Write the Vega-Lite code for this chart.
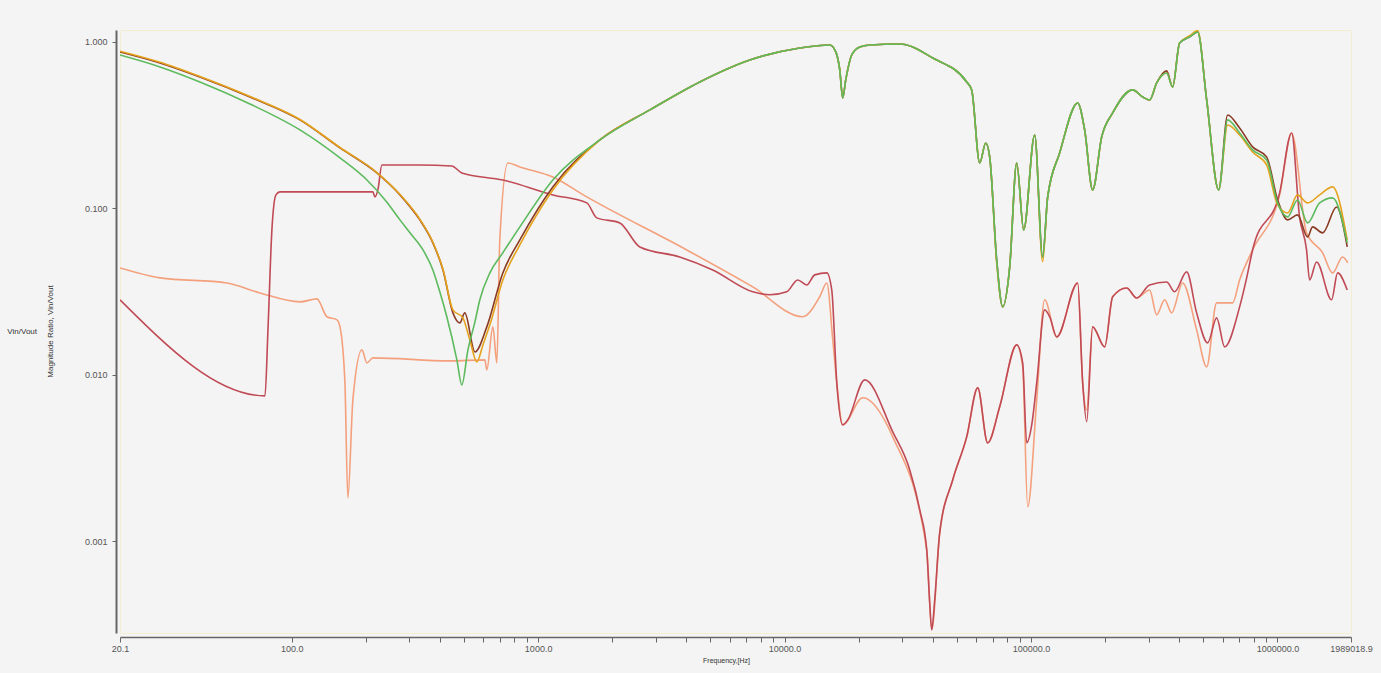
{
  "$schema": "https://vega.github.io/schema/vega-lite/v6.json",
  "autosize": "none",
  "width": 1231,
  "height": 603,
  "padding": {"left": 120, "top": 30, "right": 30, "bottom": 40},
  "background": "#f4f4f4",
  "title": {"text": "Vin/Vout", "orient": "left", "angle": 0, "align": "left", "baseline": "middle", "anchor": "middle", "offset": 9, "fontSize": 8, "fontWeight": "normal", "font": "Liberation Sans", "color": "#333"},
  "config": {
    "view": {"stroke": "#f3edd2", "strokeWidth": 1},
    "axis": {"labelFont": "Liberation Sans", "titleFont": "Liberation Sans", "labelColor": "#555", "titleColor": "#333", "domainColor": "#666", "tickColor": "#666", "grid": false}
  },
  "data": {
    "values": [
      {"s": "E", "f": 20.1, "v": 0.0438}, {"s": "E", "f": 29.2, "v": 0.0382}, {"s": "E", "f": 54.6, "v": 0.0356}, {"s": "E", "f": 74.3, "v": 0.031}, {"s": "E", "f": 108, "v": 0.0274}, {"s": "E", "f": 126.6, "v": 0.02855}, {"s": "E", "f": 138.9, "v": 0.0223}, {"s": "E", "f": 152.6, "v": 0.02135}, {"s": "E", "f": 157, "v": 0.01938}, {"s": "E", "f": 164.4, "v": 0.00893}, {"s": "E", "f": 169, "v": 0.001818}, {"s": "E", "f": 177.1, "v": 0.00706}, {"s": "E", "f": 192.7, "v": 0.01409}, {"s": "E", "f": 202, "v": 0.01177}, {"s": "E", "f": 213.5, "v": 0.01262}, {"s": "E", "f": 438.3, "v": 0.0121}, {"s": "E", "f": 607.8, "v": 0.01227}, {"s": "E", "f": 619, "v": 0.01069}, {"s": "E", "f": 655, "v": 0.01938}, {"s": "E", "f": 680, "v": 0.01177}, {"s": "E", "f": 699, "v": 0.0646}, {"s": "E", "f": 753.8, "v": 0.1874}, {"s": "E", "f": 843, "v": 0.1773}, {"s": "E", "f": 1147, "v": 0.1544}, {"s": "E", "f": 1576, "v": 0.1171}, {"s": "E", "f": 4010, "v": 0.0562}, {"s": "E", "f": 7430, "v": 0.0337}, {"s": "E", "f": 11850, "v": 0.0223}, {"s": "E", "f": 13890, "v": 0.0294}, {"s": "E", "f": 14840, "v": 0.0356}, {"s": "E", "f": 15690, "v": 0.01619}, {"s": "E", "f": 16290, "v": 0.00893}, {"s": "E", "f": 17220, "v": 0.00499}, {"s": "E", "f": 20760, "v": 0.00726}, {"s": "E", "f": 27480, "v": 0.00423}, {"s": "E", "f": 37750, "v": 0.000885}, {"s": "E", "f": 39560, "v": 0.000293}, {"s": "E", "f": 42620, "v": 0.00112}, {"s": "E", "f": 48120, "v": 0.00233}, {"s": "E", "f": 54840, "v": 0.00423}, {"s": "E", "f": 60790, "v": 0.00833}, {"s": "E", "f": 66720, "v": 0.00389}, {"s": "E", "f": 74650, "v": 0.00641}, {"s": "E", "f": 87500, "v": 0.0151}, {"s": "E", "f": 92540, "v": 0.01114}, {"s": "E", "f": 96970, "v": 0.001606}, {"s": "E", "f": 105500, "v": 0.00706}, {"s": "E", "f": 113600, "v": 0.0282}, {"s": "E", "f": 127200, "v": 0.01688}, {"s": "E", "f": 154700, "v": 0.0356}, {"s": "E", "f": 162100, "v": 0.00893}, {"s": "E", "f": 168300, "v": 0.00614}, {"s": "E", "f": 177900, "v": 0.01938}, {"s": "E", "f": 199100, "v": 0.01469}, {"s": "E", "f": 214500, "v": 0.0294}, {"s": "E", "f": 244500, "v": 0.0332}, {"s": "E", "f": 268400, "v": 0.0289}, {"s": "E", "f": 303000, "v": 0.0323}, {"s": "E", "f": 323600, "v": 0.02288}, {"s": "E", "f": 348700, "v": 0.0282}, {"s": "E", "f": 372200, "v": 0.02352}, {"s": "E", "f": 412500, "v": 0.0356}, {"s": "E", "f": 470100, "v": 0.01859}, {"s": "E", "f": 516300, "v": 0.01114}, {"s": "E", "f": 566700, "v": 0.027}, {"s": "E", "f": 658000, "v": 0.027}, {"s": "E", "f": 702500, "v": 0.0371}, {"s": "E", "f": 793000, "v": 0.0562}, {"s": "E", "f": 1021000, "v": 0.1204}, {"s": "E", "f": 1142000, "v": 0.2839}, {"s": "E", "f": 1313000, "v": 0.0712}, {"s": "E", "f": 1526000, "v": 0.054}, {"s": "E", "f": 1674000, "v": 0.0409}, {"s": "E", "f": 1839000, "v": 0.051}, {"s": "E", "f": 1930000, "v": 0.047},

      {"s": "D", "f": 20.1, "v": 0.0282}, {"s": "D", "f": 77.9, "v": 0.00746}, {"s": "D", "f": 80.1, "v": 0.01859}, {"s": "D", "f": 83.1, "v": 0.0742}, {"s": "D", "f": 86.3, "v": 0.1204}, {"s": "D", "f": 89.6, "v": 0.1255}, {"s": "D", "f": 213.5, "v": 0.1255}, {"s": "D", "f": 217.5, "v": 0.1171}, {"s": "D", "f": 223.7, "v": 0.129}, {"s": "D", "f": 232.2, "v": 0.1823}, {"s": "D", "f": 331, "v": 0.1823}, {"s": "D", "f": 446.5, "v": 0.1798}, {"s": "D", "f": 490, "v": 0.1632}, {"s": "D", "f": 719, "v": 0.148}, {"s": "D", "f": 1147, "v": 0.1204}, {"s": "D", "f": 1576, "v": 0.1078}, {"s": "D", "f": 1730, "v": 0.0876}, {"s": "D", "f": 2145, "v": 0.0817}, {"s": "D", "f": 2586, "v": 0.0586}, {"s": "D", "f": 3757, "v": 0.051}, {"s": "D", "f": 5113, "v": 0.0426}, {"s": "D", "f": 7430, "v": 0.0315}, {"s": "D", "f": 8710, "v": 0.0302}, {"s": "D", "f": 10210, "v": 0.0315}, {"s": "D", "f": 11310, "v": 0.0371}, {"s": "D", "f": 12300, "v": 0.0346}, {"s": "D", "f": 13260, "v": 0.0398}, {"s": "D", "f": 14840, "v": 0.0409}, {"s": "D", "f": 15540, "v": 0.0323}, {"s": "D", "f": 16290, "v": 0.00893}, {"s": "D", "f": 17220, "v": 0.00499}, {"s": "D", "f": 18050, "v": 0.00535}, {"s": "D", "f": 21150, "v": 0.0093}, {"s": "D", "f": 27480, "v": 0.00453}, {"s": "D", "f": 32200, "v": 0.00268}, {"s": "D", "f": 35370, "v": 0.00154}, {"s": "D", "f": 37750, "v": 0.000885}, {"s": "D", "f": 38820, "v": 0.000425}, {"s": "D", "f": 39560, "v": 0.000293}, {"s": "D", "f": 40680, "v": 0.000443}, {"s": "D", "f": 42620, "v": 0.00112}, {"s": "D", "f": 48120, "v": 0.00233}, {"s": "D", "f": 54840, "v": 0.00423}, {"s": "D", "f": 60790, "v": 0.00833}, {"s": "D", "f": 66720, "v": 0.00389}, {"s": "D", "f": 74650, "v": 0.00641}, {"s": "D", "f": 87500, "v": 0.0151}, {"s": "D", "f": 92540, "v": 0.01177}, {"s": "D", "f": 96070, "v": 0.00389}, {"s": "D", "f": 100700, "v": 0.00499}, {"s": "D", "f": 105500, "v": 0.00893}, {"s": "D", "f": 113600, "v": 0.02452}, {"s": "D", "f": 119100, "v": 0.0223}, {"s": "D", "f": 127200, "v": 0.01688}, {"s": "D", "f": 154700, "v": 0.0356}, {"s": "D", "f": 162100, "v": 0.00893}, {"s": "D", "f": 168300, "v": 0.00521}, {"s": "D", "f": 177900, "v": 0.01938}, {"s": "D", "f": 199100, "v": 0.01469}, {"s": "D", "f": 214500, "v": 0.0294}, {"s": "D", "f": 244500, "v": 0.0332}, {"s": "D", "f": 268400, "v": 0.0289}, {"s": "D", "f": 303000, "v": 0.0346}, {"s": "D", "f": 355300, "v": 0.0361}, {"s": "D", "f": 382800, "v": 0.0315}, {"s": "D", "f": 428300, "v": 0.0415}, {"s": "D", "f": 470100, "v": 0.02352}, {"s": "D", "f": 521100, "v": 0.01553}, {"s": "D", "f": 566700, "v": 0.02195}, {"s": "D", "f": 610800, "v": 0.01469}, {"s": "D", "f": 702500, "v": 0.02556}, {"s": "D", "f": 750300, "v": 0.0382}, {"s": "D", "f": 793000, "v": 0.0562}, {"s": "D", "f": 1021000, "v": 0.1238}, {"s": "D", "f": 1142000, "v": 0.2839}, {"s": "D", "f": 1230000, "v": 0.0888}, {"s": "D", "f": 1313000, "v": 0.0562}, {"s": "D", "f": 1351000, "v": 0.0371}, {"s": "D", "f": 1442000, "v": 0.0476}, {"s": "D", "f": 1659000, "v": 0.0282}, {"s": "D", "f": 1755000, "v": 0.0409}, {"s": "D", "f": 1920000, "v": 0.0323},

      {"s": "A", "f": 20.1, "v": 0.871}, {"s": "A", "f": 29.2, "v": 0.748}, {"s": "A", "f": 42.4, "v": 0.616}, {"s": "A", "f": 67.7, "v": 0.467}, {"s": "A", "f": 108, "v": 0.34}, {"s": "A", "f": 157, "v": 0.2307}, {"s": "A", "f": 221.6, "v": 0.1632}, {"s": "A", "f": 275, "v": 0.1204}, {"s": "A", "f": 331, "v": 0.0852}, {"s": "A", "f": 374, "v": 0.062}, {"s": "A", "f": 411, "v": 0.0426}, {"s": "A", "f": 451, "v": 0.02352}, {"s": "A", "f": 481, "v": 0.02048}, {"s": "A", "f": 504, "v": 0.02352}, {"s": "A", "f": 554, "v": 0.01371}, {"s": "A", "f": 619, "v": 0.01938}, {"s": "A", "f": 719, "v": 0.0409}, {"s": "A", "f": 843, "v": 0.0646}, {"s": "A", "f": 1147, "v": 0.1345}, {"s": "A", "f": 1780, "v": 0.2577}, {"s": "A", "f": 2840, "v": 0.3904}, {"s": "A", "f": 4529, "v": 0.575}, {"s": "A", "f": 7224, "v": 0.779}, {"s": "A", "f": 11530, "v": 0.92}, {"s": "A", "f": 15260, "v": 0.959}, {"s": "A", "f": 16140, "v": 0.871}, {"s": "A", "f": 16750, "v": 0.679}, {"s": "A", "f": 17220, "v": 0.461}, {"s": "A", "f": 17710, "v": 0.591}, {"s": "A", "f": 18730, "v": 0.835}, {"s": "A", "f": 20190, "v": 0.933}, {"s": "A", "f": 22160, "v": 0.959}, {"s": "A", "f": 29330, "v": 0.973}, {"s": "A", "f": 39930, "v": 0.801}, {"s": "A", "f": 54840, "v": 0.575}, {"s": "A", "f": 57460, "v": 0.515}, {"s": "A", "f": 61940, "v": 0.1874}, {"s": "A", "f": 65510, "v": 0.2472}, {"s": "A", "f": 67990, "v": 0.2037}, {"s": "A", "f": 72580, "v": 0.049}, {"s": "A", "f": 76790, "v": 0.02556}, {"s": "A", "f": 81960, "v": 0.0444}, {"s": "A", "f": 87500, "v": 0.1874}, {"s": "A", "f": 93410, "v": 0.0742}, {"s": "A", "f": 103500, "v": 0.2761}, {"s": "A", "f": 111500, "v": 0.051}, {"s": "A", "f": 116900, "v": 0.1171}, {"s": "A", "f": 130700, "v": 0.2152}, {"s": "A", "f": 154700, "v": 0.43}, {"s": "A", "f": 165100, "v": 0.296}, {"s": "A", "f": 177900, "v": 0.129}, {"s": "A", "f": 193600, "v": 0.2686}, {"s": "A", "f": 214500, "v": 0.3744}, {"s": "A", "f": 258600, "v": 0.515}, {"s": "A", "f": 283900, "v": 0.467}, {"s": "A", "f": 303000, "v": 0.448}, {"s": "A", "f": 323600, "v": 0.567}, {"s": "A", "f": 355300, "v": 0.67}, {"s": "A", "f": 375700, "v": 0.537}, {"s": "A", "f": 401000, "v": 0.986}, {"s": "A", "f": 440400, "v": 1.072}, {"s": "A", "f": 474700, "v": 1.148}, {"s": "A", "f": 516300, "v": 0.448}, {"s": "A", "f": 577500, "v": 0.129}, {"s": "A", "f": 628100, "v": 0.364}, {"s": "A", "f": 702500, "v": 0.304}, {"s": "A", "f": 793000, "v": 0.234}, {"s": "A", "f": 904100, "v": 0.2037}, {"s": "A", "f": 1002000, "v": 0.1123}, {"s": "A", "f": 1100000, "v": 0.0852}, {"s": "A", "f": 1207000, "v": 0.0913}, {"s": "A", "f": 1326000, "v": 0.0673}, {"s": "A", "f": 1389000, "v": 0.0773}, {"s": "A", "f": 1526000, "v": 0.0712}, {"s": "A", "f": 1739000, "v": 0.1019}, {"s": "A", "f": 1920000, "v": 0.0586},

      {"s": "B", "f": 20.1, "v": 0.88}, {"s": "B", "f": 29.2, "v": 0.755}, {"s": "B", "f": 42.4, "v": 0.62}, {"s": "B", "f": 67.7, "v": 0.47}, {"s": "B", "f": 108, "v": 0.342}, {"s": "B", "f": 157, "v": 0.232}, {"s": "B", "f": 221.6, "v": 0.164}, {"s": "B", "f": 275, "v": 0.121}, {"s": "B", "f": 331, "v": 0.086}, {"s": "B", "f": 374, "v": 0.0625}, {"s": "B", "f": 411, "v": 0.043}, {"s": "B", "f": 451, "v": 0.02452}, {"s": "B", "f": 495, "v": 0.02195}, {"s": "B", "f": 528, "v": 0.01619}, {"s": "B", "f": 564, "v": 0.01194}, {"s": "B", "f": 597, "v": 0.0151}, {"s": "B", "f": 637, "v": 0.01993}, {"s": "B", "f": 719, "v": 0.0371}, {"s": "B", "f": 843, "v": 0.0603}, {"s": "B", "f": 1147, "v": 0.129}, {"s": "B", "f": 1780, "v": 0.2577}, {"s": "B", "f": 2840, "v": 0.3904}, {"s": "B", "f": 4529, "v": 0.575}, {"s": "B", "f": 7224, "v": 0.779}, {"s": "B", "f": 11530, "v": 0.92}, {"s": "B", "f": 15260, "v": 0.959}, {"s": "B", "f": 16140, "v": 0.871}, {"s": "B", "f": 16750, "v": 0.679}, {"s": "B", "f": 17220, "v": 0.461}, {"s": "B", "f": 17710, "v": 0.591}, {"s": "B", "f": 18730, "v": 0.835}, {"s": "B", "f": 20190, "v": 0.933}, {"s": "B", "f": 22160, "v": 0.959}, {"s": "B", "f": 29330, "v": 0.973}, {"s": "B", "f": 39930, "v": 0.801}, {"s": "B", "f": 54840, "v": 0.575}, {"s": "B", "f": 57460, "v": 0.515}, {"s": "B", "f": 61940, "v": 0.1874}, {"s": "B", "f": 65510, "v": 0.2472}, {"s": "B", "f": 67990, "v": 0.2037}, {"s": "B", "f": 72580, "v": 0.047}, {"s": "B", "f": 76790, "v": 0.02556}, {"s": "B", "f": 81960, "v": 0.0444}, {"s": "B", "f": 87500, "v": 0.1874}, {"s": "B", "f": 93410, "v": 0.0742}, {"s": "B", "f": 103500, "v": 0.2761}, {"s": "B", "f": 111500, "v": 0.0477}, {"s": "B", "f": 116900, "v": 0.1171}, {"s": "B", "f": 130700, "v": 0.2152}, {"s": "B", "f": 154700, "v": 0.43}, {"s": "B", "f": 165100, "v": 0.296}, {"s": "B", "f": 177900, "v": 0.129}, {"s": "B", "f": 193600, "v": 0.2686}, {"s": "B", "f": 214500, "v": 0.3744}, {"s": "B", "f": 258600, "v": 0.515}, {"s": "B", "f": 283900, "v": 0.467}, {"s": "B", "f": 303000, "v": 0.448}, {"s": "B", "f": 323600, "v": 0.567}, {"s": "B", "f": 355300, "v": 0.651}, {"s": "B", "f": 375700, "v": 0.537}, {"s": "B", "f": 401000, "v": 0.986}, {"s": "B", "f": 440400, "v": 1.09}, {"s": "B", "f": 474700, "v": 1.17}, {"s": "B", "f": 516300, "v": 0.448}, {"s": "B", "f": 577500, "v": 0.129}, {"s": "B", "f": 628100, "v": 0.317}, {"s": "B", "f": 702500, "v": 0.2761}, {"s": "B", "f": 793000, "v": 0.2183}, {"s": "B", "f": 904100, "v": 0.1823}, {"s": "B", "f": 1002000, "v": 0.1048}, {"s": "B", "f": 1100000, "v": 0.0938}, {"s": "B", "f": 1207000, "v": 0.1204}, {"s": "B", "f": 1326000, "v": 0.1078}, {"s": "B", "f": 1484000, "v": 0.1204}, {"s": "B", "f": 1674000, "v": 0.1345}, {"s": "B", "f": 1920000, "v": 0.0646},

      {"s": "C", "f": 20.1, "v": 0.835}, {"s": "C", "f": 29.2, "v": 0.708}, {"s": "C", "f": 42.4, "v": 0.575}, {"s": "C", "f": 67.7, "v": 0.424}, {"s": "C", "f": 108, "v": 0.296}, {"s": "C", "f": 157, "v": 0.2009}, {"s": "C", "f": 202, "v": 0.148}, {"s": "C", "f": 243, "v": 0.1093}, {"s": "C", "f": 275, "v": 0.0852}, {"s": "C", "f": 302, "v": 0.0712}, {"s": "C", "f": 341, "v": 0.0562}, {"s": "C", "f": 374, "v": 0.0426}, {"s": "C", "f": 399, "v": 0.0315}, {"s": "C", "f": 426, "v": 0.0223}, {"s": "C", "f": 468, "v": 0.01227}, {"s": "C", "f": 490, "v": 0.00868}, {"s": "C", "f": 519, "v": 0.01409}, {"s": "C", "f": 554, "v": 0.02077}, {"s": "C", "f": 580, "v": 0.0282}, {"s": "C", "f": 637, "v": 0.0409}, {"s": "C", "f": 719, "v": 0.054}, {"s": "C", "f": 843, "v": 0.0773}, {"s": "C", "f": 1147, "v": 0.148}, {"s": "C", "f": 1780, "v": 0.2577}, {"s": "C", "f": 2840, "v": 0.3904}, {"s": "C", "f": 4529, "v": 0.575}, {"s": "C", "f": 7224, "v": 0.779}, {"s": "C", "f": 11530, "v": 0.92}, {"s": "C", "f": 15260, "v": 0.959}, {"s": "C", "f": 16140, "v": 0.871}, {"s": "C", "f": 16750, "v": 0.679}, {"s": "C", "f": 17220, "v": 0.461}, {"s": "C", "f": 17710, "v": 0.591}, {"s": "C", "f": 18730, "v": 0.835}, {"s": "C", "f": 20190, "v": 0.933}, {"s": "C", "f": 22160, "v": 0.959}, {"s": "C", "f": 29330, "v": 0.973}, {"s": "C", "f": 39930, "v": 0.801}, {"s": "C", "f": 54840, "v": 0.575}, {"s": "C", "f": 57460, "v": 0.515}, {"s": "C", "f": 61940, "v": 0.1874}, {"s": "C", "f": 65510, "v": 0.2472}, {"s": "C", "f": 67990, "v": 0.2037}, {"s": "C", "f": 72580, "v": 0.049}, {"s": "C", "f": 76790, "v": 0.02556}, {"s": "C", "f": 81960, "v": 0.0444}, {"s": "C", "f": 87500, "v": 0.1874}, {"s": "C", "f": 93410, "v": 0.0742}, {"s": "C", "f": 103500, "v": 0.2761}, {"s": "C", "f": 111500, "v": 0.051}, {"s": "C", "f": 116900, "v": 0.1171}, {"s": "C", "f": 130700, "v": 0.2152}, {"s": "C", "f": 154700, "v": 0.43}, {"s": "C", "f": 165100, "v": 0.296}, {"s": "C", "f": 177900, "v": 0.129}, {"s": "C", "f": 193600, "v": 0.2686}, {"s": "C", "f": 214500, "v": 0.3744}, {"s": "C", "f": 258600, "v": 0.515}, {"s": "C", "f": 283900, "v": 0.467}, {"s": "C", "f": 303000, "v": 0.448}, {"s": "C", "f": 323600, "v": 0.567}, {"s": "C", "f": 355300, "v": 0.651}, {"s": "C", "f": 375700, "v": 0.537}, {"s": "C", "f": 401000, "v": 0.986}, {"s": "C", "f": 440400, "v": 1.072}, {"s": "C", "f": 474700, "v": 1.148}, {"s": "C", "f": 516300, "v": 0.448}, {"s": "C", "f": 577500, "v": 0.129}, {"s": "C", "f": 628100, "v": 0.34}, {"s": "C", "f": 702500, "v": 0.2839}, {"s": "C", "f": 793000, "v": 0.2244}, {"s": "C", "f": 904100, "v": 0.1954}, {"s": "C", "f": 1002000, "v": 0.1078}, {"s": "C", "f": 1100000, "v": 0.0888}, {"s": "C", "f": 1207000, "v": 0.1123}, {"s": "C", "f": 1326000, "v": 0.0817}, {"s": "C", "f": 1484000, "v": 0.1078}, {"s": "C", "f": 1674000, "v": 0.1155}, {"s": "C", "f": 1920000, "v": 0.062}
    ]
  },
  "mark": {"type": "line", "interpolate": "monotone", "clip": true},
  "encoding": {
    "x": {
      "field": "f", "type": "quantitative",
      "scale": {"type": "log", "domain": [20.1, 1989018.9], "nice": false},
      "axis": {
        "title": "Frequency,[Hz]", "titleFontSize": 7, "titleFontWeight": "normal", "titlePadding": 3, "titleX": 606, "titleAlign": "center",
        "offset": 4, "tickSize": 5, "labelPadding": 2, "labelFontSize": 9, "labelOverlap": false, "labelFlush": false,
        "domainWidth": 1.5,
        "values": [20.1, 100, 200, 300, 400, 500, 600, 700, 800, 900, 1000, 2000, 3000, 4000, 5000, 6000, 7000, 8000, 9000, 10000, 20000, 30000, 40000, 50000, 60000, 70000, 80000, 90000, 100000, 200000, 300000, 400000, 500000, 600000, 700000, 800000, 900000, 1000000, 1989018.9],
        "labelExpr": "indexof([20.1, 100, 1000, 10000, 100000, 1000000, 1989018.9], datum.value) >= 0 ? format(datum.value, '.1f') : ''"
      }
    },
    "y": {
      "field": "v", "type": "quantitative",
      "scale": {"type": "log", "domain": [0.00028, 1.18], "nice": false},
      "axis": {
        "title": "Magnitude Ratio, Vin/Vout", "titleFontSize": 8, "titleFontWeight": "normal",
        "titleAngle": -90, "titleX": -66, "titleY": 301, "titleAlign": "center", "titleBaseline": "middle",
        "offset": 4, "tickSize": 4, "labelPadding": 5, "labelFontSize": 9, "labelFlush": false,
        "domainWidth": 2,
        "values": [0.001, 0.01, 0.1, 1],
        "format": ".3f"
      }
    },
    "color": {
      "field": "s", "type": "nominal", "legend": null,
      "scale": {"domain": ["E", "D", "A", "B", "C"], "range": ["#f4a07c", "#c04a55", "#8a3b24", "#e5a21c", "#5dba5d"]}
    },
    "strokeWidth": {
      "field": "s", "type": "nominal", "legend": null,
      "scale": {"domain": ["E", "D", "A", "B", "C"], "range": [1.6, 1.6, 2.2, 1.6, 2]}
    }
  }
}
